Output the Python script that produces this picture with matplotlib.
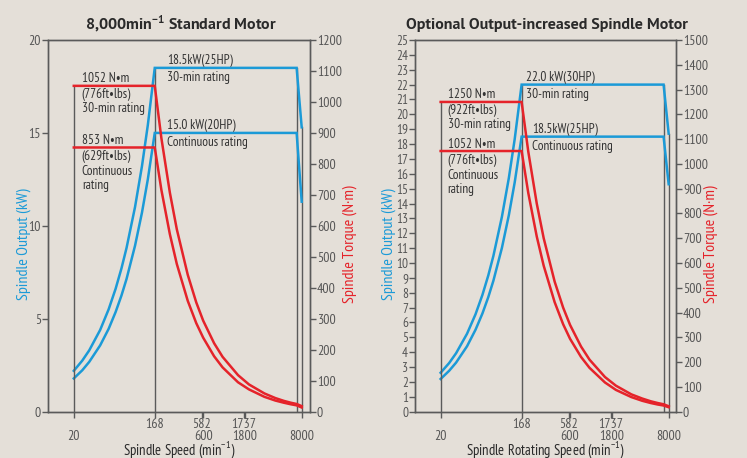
import matplotlib
matplotlib.use("Agg")
import matplotlib.pyplot as plt
from matplotlib.ticker import FixedLocator

# ---------------- data ----------------
# Standard motor
std_rise_speed = [20, 25, 30, 40, 50, 60, 70, 80, 100, 120, 140, 168]
std_p30_rise = [2.20, 2.75, 3.30, 4.40, 5.51, 6.61, 7.71, 8.81, 11.01, 13.21, 15.42, 18.5]
std_pcont_rise = [1.79, 2.23, 2.68, 3.57, 4.46, 5.36, 6.25, 7.14, 8.93, 10.71, 12.50, 15.0]
std_flat_speed = [168, 7000, 8000]
std_p30_flat = [18.5, 18.5, 15.3]
std_pcont_flat = [15.0, 15.0, 11.3]

torque_speed = [20, 168, 200, 250, 300, 400, 500, 600, 800, 1000, 1500, 2000,
                3000, 4000, 5000, 6000, 7000, 8000]
std_t30 = [1052, 1052, 883, 707, 589, 442, 353, 294, 221, 177, 118, 88,
           59, 44, 35, 29, 25, 18]
std_tcont = [853, 853, 716, 573, 477, 358, 286, 239, 179, 143, 95, 72,
             48, 36, 29, 24, 20.5, 13.5]

# Output-increased motor
opt_p30_rise = [2.62, 3.27, 3.93, 5.24, 6.55, 7.86, 9.17, 10.48, 13.10, 15.71, 18.33, 22.0]
opt_pcont_rise = [2.20, 2.75, 3.30, 4.40, 5.51, 6.61, 7.71, 8.81, 11.01, 13.21, 15.42, 18.5]
opt_p30_flat = [22.0, 22.0, 18.7]
opt_pcont_flat = [18.5, 18.5, 15.3]
opt_t30 = [1250, 1250, 1050, 840, 700, 525, 420, 350, 263, 210, 140, 105,
           70, 53, 42, 35, 30, 22]
opt_tcont = [1052, 1052, 883, 707, 589, 442, 353, 294, 221, 177, 118, 88,
             59, 44, 35, 29, 25, 18]

xtick_low_vals = [20, 600, 1800, 8000]        # lower row labels
xtick_low_labels = ["20", "600", "1800", "8000"]
xtick_up_vals = [168, 582, 1737]              # upper row labels
xtick_up_labels = ["168", "582", "1737"]

# ---------------- style ----------------
BG = "#e4dfd8"
BLUE = "#1b9ad7"
RED = "#e5232a"
GRAY = "#5a5a5a"
TXT = "#333333"
NARROW = ["PT Sans Narrow", "DejaVu Sans"]
REG = ["PT Sans", "DejaVu Sans"]
SUP = r"$^{\mathregular{-1}}$"

fig = plt.figure(figsize=(7.47, 4.58), dpi=100)
fig.patch.set_facecolor(BG)

PX = 0.72  # points per pixel


def style_axes(ax, tw):
    for a in (ax, tw):
        a.set_facecolor("none")
        for s in a.spines.values():
            s.set_color(GRAY)
            s.set_linewidth(1.0)
    ax.set_facecolor(BG)
    ax.set_xscale("log")
    ax.xaxis.set_major_locator(FixedLocator(xtick_low_vals))
    ax.xaxis.set_minor_locator(FixedLocator(xtick_up_vals))
    ax.set_xticklabels(xtick_low_labels, family=NARROW, fontsize=10, color="#555555")
    ax.set_xticklabels(xtick_up_labels, minor=True, family=NARROW, fontsize=10,
                       color="#555555")
    ax.tick_params(axis="x", which="major", length=4, width=1, color=GRAY, pad=9.5)
    ax.tick_params(axis="x", which="minor", length=4, width=1, color=GRAY, pad=0.5)
    ax.tick_params(axis="y", length=4, width=1, color=GRAY, pad=1,
                   labelcolor="#555555", labelsize=10)
    tw.tick_params(axis="y", length=4, width=1, color=GRAY, pad=1,
                   labelcolor="#555555", labelsize=10)
    for lab in ax.get_yticklabels() + tw.get_yticklabels():
        lab.set_family(NARROW)


def label(ax, xy, dx, dy, text):
    ax.annotate(text, xy=xy, xytext=(dx * PX, -dy * PX), textcoords="offset points",
                ha="left", va="center", family=NARROW, fontsize=9.5, color=TXT)


def draw(rect, xlim, pmax, pticks, tmax, tticks, rise_p30, rise_pc, flat_p30, flat_pc,
         t30, tc, title, xlabel, txt_t30, txt_tc, txt_p30, txt_pc, dx_t, dx_p30, dx_pc,
         ylab_fs, lab_x):
    ax = fig.add_axes(rect)
    tw = ax.twinx()
    ax.set_xlim(*xlim)
    ax.set_ylim(0, pmax)
    tw.set_ylim(0, tmax)
    ax.set_yticks(pticks)
    tw.set_yticks(tticks)
    style_axes(ax, tw)
    for lab in ax.get_yticklabels():
        lab.set_fontsize(ylab_fs)

    # gray verticals
    tw.plot([torque_speed[0]] * 2, [0, t30[0]], color=GRAY, lw=1.0, zorder=1)
    ax.plot([std_flat_speed[0]] * 2, [0, flat_p30[0]], color=GRAY, lw=1.0, zorder=1)
    ax.plot([std_flat_speed[1]] * 2, [0, flat_p30[1]], color=GRAY, lw=1.0, zorder=1)
    ax.plot([std_flat_speed[2]] * 2, [0, flat_p30[2]], color=GRAY, lw=1.0, zorder=1)

    for rp, fp in ((rise_p30, flat_p30), (rise_pc, flat_pc)):
        ax.plot(std_rise_speed + std_flat_speed[1:], rp + fp[1:], color=BLUE, lw=1.8,
                zorder=3, solid_joinstyle="miter")
    for tv in (t30, tc):
        tw.plot(torque_speed, tv, color=RED, lw=1.8, zorder=3)

    ax.set_title(title, fontsize=11.5, fontweight="bold", color="#2a2a2a", pad=8,
                 family=REG, x=0.507)
    ax.set_xlabel(xlabel, fontsize=10.5, color="#2a2a2a", family=NARROW, va="center")
    ax.xaxis.set_label_coords(0.5, -0.102)
    ax.set_ylabel("Spindle Output (kW)", color=BLUE, fontsize=11.5, family=NARROW)
    tw.set_ylabel("Spindle Torque (N·m)", color=RED, fontsize=11.5, family=NARROW)
    ax.yaxis.set_label_coords(lab_x[0], 0.451)
    tw.yaxis.set_label_coords(lab_x[1], 0.451)

    # annotations
    x0 = torque_speed[0]
    label(tw, (x0, t30[0]), dx_t, -7, txt_t30[0])
    for i, s in enumerate(txt_t30[1:]):
        label(tw, (x0, t30[0]), dx_t, 8.5 + 14.5 * i, s)
    label(tw, (x0, tc[0]), dx_t, -7, txt_tc[0])
    for i, s in enumerate(txt_tc[1:]):
        label(tw, (x0, tc[0]), dx_t, 9.5 + 14.5 * i, s)
    label(ax, (168, flat_p30[0]), dx_p30, -7.5, txt_p30[0])
    label(ax, (168, flat_p30[0]), dx_p30, 9.5, txt_p30[1])
    label(ax, (168, flat_pc[0]), dx_pc, -7.5, txt_pc[0])
    label(ax, (168, flat_pc[0]), dx_pc, 9.5, txt_pc[1])
    return ax, tw


draw([48 / 747, 1 - 411.7 / 458, 262 / 747, 371.7 / 458], (10.15, 9950),
     20, [0, 5, 10, 15, 20], 1200, list(range(0, 1201, 100)),
     std_p30_rise, std_pcont_rise, std_p30_flat, std_pcont_flat, std_t30, std_tcont,
     "8,000min" + SUP + " Standard Motor", "Spindle Speed (min" + SUP + ")",
     ["1052 N•m", "(776ft•lbs)", "30-min rating"],
     ["853 N•m", "(629ft•lbs)", "Continuous", "rating"],
     ["18.5kW(25HP)", "30-min rating"], ["15.0 kW(20HP)", "Continuous rating"],
     8, 12, 12, 10, (-0.065, 1.122))

draw([415 / 747, 1 - 411.7 / 458, 261 / 747, 371.7 / 458], (10.2, 9700),
     25, list(range(0, 26)), 1500, list(range(0, 1501, 100)),
     opt_p30_rise, opt_pcont_rise, opt_p30_flat, opt_pcont_flat, opt_t30, opt_tcont,
     "Optional Output-increased Spindle Motor", "Spindle Rotating Speed (min" + SUP + ")",
     ["1250 N•m", "(922ft•lbs)", "30-min rating"],
     ["1052 N•m", "(776ft•lbs)", "Continuous", "rating"],
     ["22.0 kW(30HP)", "30-min rating"], ["18.5kW(25HP)", "Continuous rating"],
     7, 4.5, 10.5, 9.5, (-0.074, 1.107))

fig.savefig("out.png", dpi=100, facecolor=BG)
